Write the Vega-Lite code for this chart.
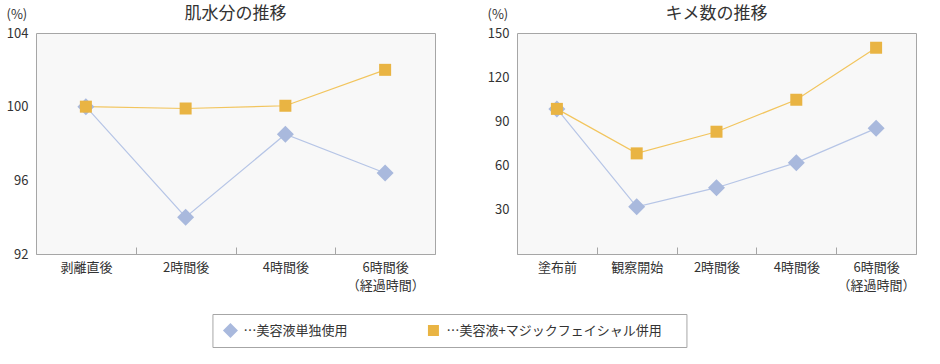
{
  "$schema": "https://vega.github.io/schema/vega-lite/v6.json",
  "padding": {"left": 5, "top": 4, "right": 5, "bottom": 5},
  "background": "#ffffff",
  "datasets": {
    "hada": [
      {"cat": "剥離直後", "series": "…美容液単独使用", "value": 100.0},
      {"cat": "2時間後", "series": "…美容液単独使用", "value": 94.0},
      {"cat": "4時間後", "series": "…美容液単独使用", "value": 98.5},
      {"cat": "6時間後\n（経過時間）", "series": "…美容液単独使用", "value": 96.4},
      {"cat": "剥離直後", "series": "…美容液+マジックフェイシャル併用", "value": 100.0},
      {"cat": "2時間後", "series": "…美容液+マジックフェイシャル併用", "value": 99.9},
      {"cat": "4時間後", "series": "…美容液+マジックフェイシャル併用", "value": 100.05},
      {"cat": "6時間後\n（経過時間）", "series": "…美容液+マジックフェイシャル併用", "value": 102.0}
    ],
    "kime": [
      {"cat": "塗布前", "series": "…美容液単独使用", "value": 98.5},
      {"cat": "観察開始", "series": "…美容液単独使用", "value": 32},
      {"cat": "2時間後", "series": "…美容液単独使用", "value": 45},
      {"cat": "4時間後", "series": "…美容液単独使用", "value": 62},
      {"cat": "6時間後\n（経過時間）", "series": "…美容液単独使用", "value": 85.3},
      {"cat": "塗布前", "series": "…美容液+マジックフェイシャル併用", "value": 98.5},
      {"cat": "観察開始", "series": "…美容液+マジックフェイシャル併用", "value": 68.3},
      {"cat": "2時間後", "series": "…美容液+マジックフェイシャル併用", "value": 83},
      {"cat": "4時間後", "series": "…美容液+マジックフェイシャル併用", "value": 104.7},
      {"cat": "6時間後\n（経過時間）", "series": "…美容液+マジックフェイシャル併用", "value": 140}
    ],
    "legend": [
      {"series": "…美容液単独使用"},
      {"series": "…美容液+マジックフェイシャル併用"}
    ]
  },
  "config": {
    "font": "Noto Sans CJK JP",
    "view": {"fill": "#f8f8f8", "stroke": "#a6a6a6", "strokeWidth": 1},
    "title": {"fontSize": 17, "fontWeight": "normal", "color": "#333333", "anchor": "middle", "frame": "group", "offset": -15},
    "axis": {"labelFontSize": 13, "labelColor": "#333333", "domain": false, "grid": false, "titleFontSize": 13, "titleFontWeight": "normal", "titleColor": "#333333"}
  },
  "spacing": 20,
  "center": true,
  "resolve": {"scale": {"color": "shared", "shape": "shared", "size": "independent", "stroke": "shared", "x": "independent", "y": "independent"}},
  "vconcat": [
    {
      "spacing": 50,
      "resolve": {"scale": {"x": "independent", "y": "independent", "color": "shared", "shape": "shared", "size": "shared", "stroke": "shared"}},
      "hconcat": [
        {
          "width": 399,
          "height": 221,
          "data": {"name": "hada"},
          "title": {"text": "肌水分の推移"},
          "encoding": {
            "x": {"field": "cat", "type": "nominal", "sort": ["剥離直後", "2時間後", "4時間後", "6時間後\n（経過時間）"],
              "scale": {"type": "band", "paddingInner": 0, "paddingOuter": 0},
              "axis": {"title": null, "labelAngle": 0, "tickBand": "extent", "tickSize": -7, "tickColor": "#a6a6a6", "labelPadding": 14, "labelLineHeight": 18, "labelExpr": "split(datum.label, '\\n')"}},
            "y": {"field": "value", "type": "quantitative", "scale": {"domain": [92, 104], "nice": false, "zero": false},
              "axis": {"values": [92, 96, 100, 104], "ticks": false, "labelPadding": 8, "title": "(%)", "titleAngle": 0, "titleAlign": "left", "titleBaseline": "middle", "titleX": -30, "titleY": -19}}
          },
          "layer": [
            {"mark": {"type": "line", "strokeWidth": 1.2},
              "encoding": {"stroke": {"field": "series", "type": "nominal", "scale": {"domain": ["…美容液単独使用", "…美容液+マジックフェイシャル併用"], "range": ["#b6c5e6", "#f2c55e"]}, "legend": null}}},
            {"mark": {"type": "point", "filled": true, "opacity": 1},
              "encoding": {
                "color": {"field": "series", "type": "nominal", "scale": {"domain": ["…美容液単独使用", "…美容液+マジックフェイシャル併用"], "range": ["#a9b9dd", "#e9b443"]}, "legend": null},
                "shape": {"field": "series", "type": "nominal", "scale": {"domain": ["…美容液単独使用", "…美容液+マジックフェイシャル併用"], "range": ["diamond", "square"]}, "legend": null},
                "size": {"field": "series", "type": "nominal", "scale": {"domain": ["…美容液単独使用", "…美容液+マジックフェイシャル併用"], "range": [289, 144]}, "legend": null}
              }}
          ]
        },
        {
          "width": 399,
          "height": 221,
          "data": {"name": "kime"},
          "title": {"text": "キメ数の推移"},
          "encoding": {
            "x": {"field": "cat", "type": "nominal", "sort": ["塗布前", "観察開始", "2時間後", "4時間後", "6時間後\n（経過時間）"],
              "scale": {"type": "band", "paddingInner": 0, "paddingOuter": 0},
              "axis": {"title": null, "labelAngle": 0, "tickBand": "extent", "tickSize": -7, "tickColor": "#a6a6a6", "labelPadding": 14, "labelLineHeight": 18, "labelExpr": "split(datum.label, '\\n')"}},
            "y": {"field": "value", "type": "quantitative", "scale": {"domain": [0, 150], "nice": false},
              "axis": {"values": [30, 60, 90, 120, 150], "ticks": false, "labelPadding": 8, "title": "(%)", "titleAngle": 0, "titleAlign": "left", "titleBaseline": "middle", "titleX": -30, "titleY": -19}}
          },
          "layer": [
            {"mark": {"type": "line", "strokeWidth": 1.2},
              "encoding": {"stroke": {"field": "series", "type": "nominal", "scale": {"domain": ["…美容液単独使用", "…美容液+マジックフェイシャル併用"], "range": ["#b6c5e6", "#f2c55e"]}, "legend": null}}},
            {"mark": {"type": "point", "filled": true, "opacity": 1},
              "encoding": {
                "color": {"field": "series", "type": "nominal", "scale": {"domain": ["…美容液単独使用", "…美容液+マジックフェイシャル併用"], "range": ["#a9b9dd", "#e9b443"]}, "legend": null},
                "shape": {"field": "series", "type": "nominal", "scale": {"domain": ["…美容液単独使用", "…美容液+マジックフェイシャル併用"], "range": ["diamond", "square"]}, "legend": null},
                "size": {"field": "series", "type": "nominal", "scale": {"domain": ["…美容液単独使用", "…美容液+マジックフェイシャル併用"], "range": [289, 144]}, "legend": null}
              }}
          ]
        }
      ]
    },
    {
      "width": 474,
      "height": 33,
      "data": {"name": "legend"},
      "view": {"fill": "#ffffff", "stroke": "#a6a6a6", "strokeWidth": 1},
      "encoding": {
        "x": {"field": "series", "type": "nominal", "sort": ["…美容液単独使用", "…美容液+マジックフェイシャル併用"],
          "scale": {"type": "point", "padding": 0, "domain": ["…美容液単独使用", "…美容液+マジックフェイシャル併用"], "range": [18, 221]}, "axis": null},
        "y": {"datum": 0, "type": "quantitative", "scale": {"domain": [-1, 1], "nice": false, "zero": false},
          "axis": {"orient": "right", "labels": false, "ticks": false, "domain": false, "grid": false, "minExtent": 0, "title": ".", "titleAngle": 0, "titleAlign": "left", "titleBaseline": "middle", "titleX": 50, "titleY": 16, "titleOpacity": 0}}
      },
      "layer": [
        {"mark": {"type": "point", "filled": true, "opacity": 1},
          "encoding": {
            "color": {"field": "series", "type": "nominal", "scale": {"domain": ["…美容液単独使用", "…美容液+マジックフェイシャル併用"], "range": ["#a9b9dd", "#e9b443"]}, "legend": null},
            "shape": {"field": "series", "type": "nominal", "scale": {"domain": ["…美容液単独使用", "…美容液+マジックフェイシャル併用"], "range": ["diamond", "square"]}, "legend": null},
            "size": {"field": "series", "type": "nominal", "scale": {"domain": ["…美容液単独使用", "…美容液+マジックフェイシャル併用"], "range": [225, 121]}, "legend": null}
          }},
        {"mark": {"type": "text", "align": "left", "baseline": "middle", "dx": 13, "fontSize": 13, "color": "#333333"},
          "encoding": {"text": {"field": "series", "type": "nominal"}}}
      ]
    }
  ]
}
